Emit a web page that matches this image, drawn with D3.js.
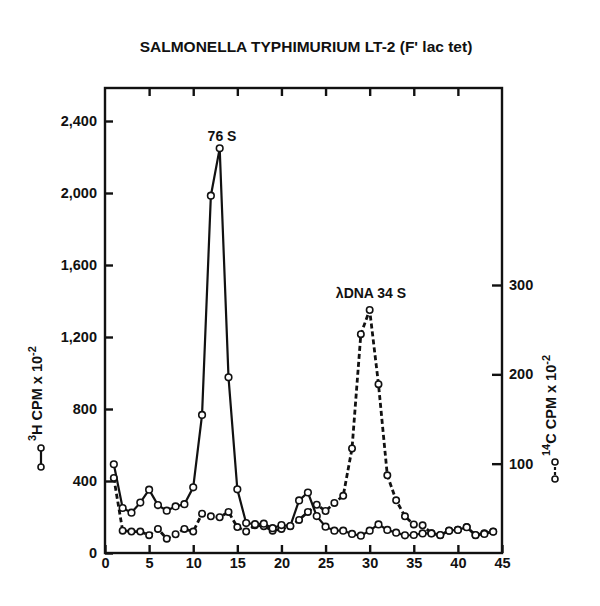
<!DOCTYPE html>
<html><head><meta charset="utf-8">
<script src="https://cdn.jsdelivr.net/npm/d3@7/dist/d3.min.js"></script>
<style>body{margin:0;background:#fff}svg{display:block}text{font-family:"Liberation Sans",Arial,sans-serif;font-weight:bold;fill:#111}</style>
</head><body>
<script>
const fractions = [1,2,3,4,5,6,7,8,9,10,11,12,13,14,15,16,17,18,19,20,21,22,23,24,25,26,27,28,29,30,31,32,33,34,35,36,37,38,39,40,41,42,43,44];
const h3Cpm = [493,250,224,280,352,266,235,259,271,365,767,1985,2248,976,354,166,160,163,138,155,150,292,336,205,146,124,124,106,96,124,159,128,113,98,100,109,109,100,124,128,143,100,106,118];
const c14Cpm = [84,25,24,24,20,27,16,21,27,24,44,41,40,46,29,24,31,30,25,27,30,37,46,54,47,56,64,117,245,272,189,87,59,41,32,31,22,20,25,26,29,20,22,24];
const xTicks = [0,5,10,15,20,25,30,35,40,45];
const leftTicks = [0,400,800,1200,1600,2000,2400];
const rightTicks = [100,200,300];

const W=600,H=606;
const svg=d3.select("body").append("svg").attr("width",W).attr("height",H);
const L=105,R=502,T=88,B=553;
const x=d3.scaleLinear().domain([0,45]).range([L,R]);
const yL=d3.scaleLinear().domain([0,2400]).range([B,121]);
const yR=d3.scaleLinear().domain([0,300]).range([B,285]);

svg.append("text").attr("x",306).attr("y",52).attr("text-anchor","middle").style("font-size","15.5px").text("SALMONELLA TYPHIMURIUM LT-2 (F' lac tet)");

const ax=svg.append("g").attr("transform",`translate(0,${B})`).call(d3.axisBottom(x).tickValues(xTicks).tickSize(-8).tickPadding(5));
const at=svg.append("g").attr("transform",`translate(0,${T})`).call(d3.axisTop(x).tickValues(xTicks.filter(d=>d>0&&d<45)).tickSize(-8).tickFormat(""));
const al=svg.append("g").attr("transform",`translate(${L},0)`).call(d3.axisLeft(yL).tickValues(leftTicks).tickSize(-8).tickPadding(8).tickFormat(d3.format(",")));
const ar=svg.append("g").attr("transform",`translate(${R},0)`).call(d3.axisRight(yR).tickValues(rightTicks).tickSize(-10).tickPadding(7));
[ax,at,al,ar].forEach(g=>{g.select(".domain").remove();g.selectAll(".tick line").attr("stroke","#111").attr("stroke-width",2.4);g.selectAll(".tick text").style("font-size","14.5px").style("font-family","'Liberation Sans',Arial,sans-serif").style("font-weight","bold").attr("fill","#111");});
svg.append("rect").attr("x",L).attr("y",T).attr("width",R-L).attr("height",B-T).attr("fill","none").attr("stroke","#111").attr("stroke-width",2.4);

const lineL=d3.line().x((d,i)=>x(fractions[i])).y(d=>yL(d));
const lineR=d3.line().x((d,i)=>x(fractions[i])).y(d=>yR(d));
svg.append("path").attr("d",lineR(c14Cpm)).attr("fill","none").attr("stroke","#111").attr("stroke-width",2.8).attr("stroke-dasharray","5,3");
svg.append("path").attr("d",lineL(h3Cpm)).attr("fill","none").attr("stroke","#111").attr("stroke-width",2.2);
svg.selectAll("circle.c").data(c14Cpm).join("circle").attr("cx",(d,i)=>x(fractions[i])).attr("cy",d=>yR(d)).attr("r",3.2).attr("fill","#fff").attr("stroke","#111").attr("stroke-width",1.6);
svg.selectAll("circle.h").data(h3Cpm).join("circle").attr("cx",(d,i)=>x(fractions[i])).attr("cy",d=>yL(d)).attr("r",3.3).attr("fill","#fff").attr("stroke","#111").attr("stroke-width",1.6);

svg.append("text").attr("x",222).attr("y",141).attr("text-anchor","middle").style("font-size","14px").text("76 S");
svg.append("text").attr("x",371).attr("y",298).attr("text-anchor","middle").style("font-size","14px").text("λDNA 34 S");

function yLabel(cx,baseY,sup,main){
  const t=svg.append("text").attr("transform",`translate(${cx+5},${baseY}) rotate(-90)`).style("font-size","14.5px");
  t.append("tspan").attr("dy","-6").style("font-size","11px").text(sup);
  t.append("tspan").attr("dy","6").text(main+" CPM x 10");
  t.append("tspan").attr("dy","-6").style("font-size","11px").text("-2");
}
yLabel(37,441,"3","H");
svg.append("line").attr("x1",41).attr("x2",41).attr("y1",448).attr("y2",467).attr("stroke","#111").attr("stroke-width",2.2);
[448,467].forEach(cy=>svg.append("circle").attr("cx",41).attr("cy",cy).attr("r",3).attr("fill","#fff").attr("stroke","#111").attr("stroke-width",1.6));
yLabel(551,456,"14","C");
svg.append("line").attr("x1",555).attr("x2",555).attr("y1",462).attr("y2",479).attr("stroke","#111").attr("stroke-width",2.2).attr("stroke-dasharray","3,2");
[462,479].forEach(cy=>svg.append("circle").attr("cx",555).attr("cy",cy).attr("r",3).attr("fill","#fff").attr("stroke","#111").attr("stroke-width",1.6));
</script>
</body></html>
